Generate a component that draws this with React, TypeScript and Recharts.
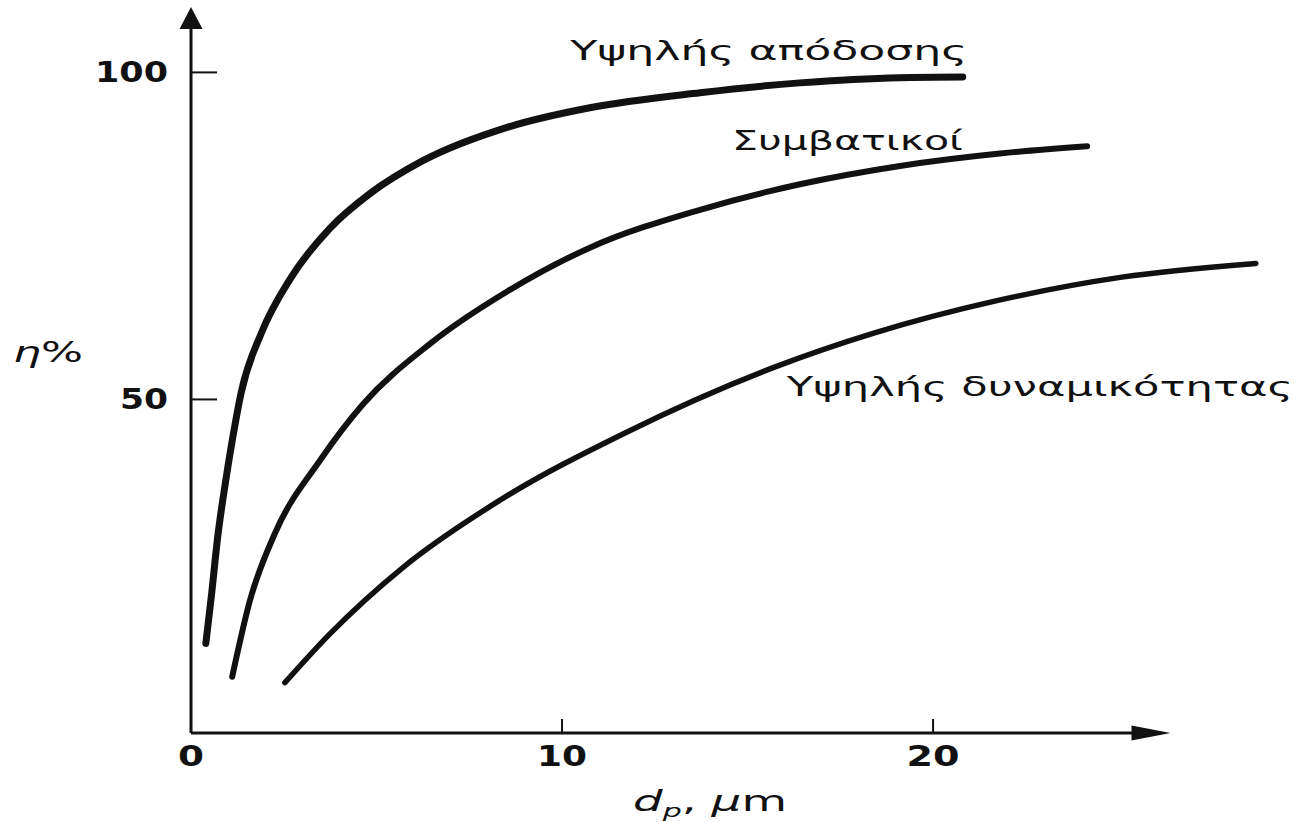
import { LineChart, Line, XAxis, YAxis, ReferenceLine, ReferenceDot } from "recharts";

const W = 1303;
const H = 822;
const INK = "#111";
const FONT = "'DejaVu Sans', 'Liberation Sans', sans-serif";

// axes
const X_TICKS = [0, 10, 20];
const Y_TICKS = [50, 100];
const X_ARROW_END = 26.4;
const Y_TOP = 110;

// Υψηλής απόδοσης
const highEffX = [0.4, 0.55, 0.72, 0.92, 1.12, 1.35, 1.9, 2.67, 3.75, 4.83, 6.25, 8.52, 10.75, 13.72, 16.4, 19.1, 20.8];
const highEffY = [12.7, 20, 29, 37, 44, 51, 60.2, 68.4, 76.2, 81.5, 86.5, 91.6, 94.6, 96.9, 98.4, 99.2, 99.3];

// Συμβατικοί
const convX = [1.11, 1.59, 2.26, 3.48, 4.64, 6.44, 8.52, 10.75, 13.72, 16.41, 19.11, 21.8, 24.15];
const convY = [7.6, 19.3, 29.5, 40.7, 49.3, 58.5, 66.5, 73.2, 79.0, 82.9, 85.7, 87.6, 88.7];

// Υψηλής δυναμικότητας
const highCapX = [2.53, 3.75, 5.71, 8.33, 11.67, 15.71, 18.38, 21.72, 25.09, 28.7];
const highCapY = [6.7, 14.2, 24.3, 34.6, 44.8, 54.9, 60.1, 65.1, 68.7, 70.8];

const toPoints = (xs: number[], ys: number[]) => xs.map((x, i) => ({ x, y: ys[i] }));

function YTick({ x, y, payload }: any) {
  const w = payload.value === 100 ? 73 : 48;
  return (
    <g>
      <line x1={x} y1={y} x2={x + 26} y2={y} stroke={INK} strokeWidth={2} />
      <text
        x={x - 23 - w}
        y={y + 10}
        textLength={w}
        lengthAdjust="spacingAndGlyphs"
        fontFamily={FONT}
        fontWeight="bold"
        fontSize={28}
        fill={INK}
      >
        {payload.value}
      </text>
    </g>
  );
}

function XTick({ x, y, payload }: any) {
  const w = payload.value === 0 ? 26 : payload.value === 10 ? 50 : 53;
  return (
    <g>
      {payload.value !== 0 && <line x1={x} y1={y} x2={x} y2={y - 14} stroke={INK} strokeWidth={2} />}
      <text
        x={x - w / 2}
        y={y + 33}
        textLength={w}
        lengthAdjust="spacingAndGlyphs"
        fontFamily={FONT}
        fontWeight="bold"
        fontSize={28}
        fill={INK}
      >
        {payload.value}
      </text>
    </g>
  );
}

function arrow(len: number, half: number) {
  return (p: any) => {
    const { x1, y1, x2, y2 } = p;
    const dx = x2 - x1;
    const dy = y2 - y1;
    const d = Math.hypot(dx, dy) || 1;
    const ux = dx / d;
    const uy = dy / d;
    const bx = x2 - ux * len;
    const by = y2 - uy * len;
    const pts = `${x2},${y2} ${bx - uy * half},${by + ux * half} ${bx + uy * half},${by - ux * half}`;
    return (
      <g>
        <line x1={x1} y1={y1} x2={bx + ux * 2} y2={by + uy * 2} stroke={INK} strokeWidth={3} />
        <polygon points={pts} fill={INK} />
      </g>
    );
  };
}

function curveLabel(text: string, width: number) {
  return (p: any) => {
    const vb = p.viewBox || {};
    return (
      <text
        x={vb.x}
        y={vb.y}
        textLength={width}
        lengthAdjust="spacingAndGlyphs"
        fontFamily={FONT}
        fontSize={26}
        fill={INK}
      >
        {text}
      </text>
    );
  };
}

function YTitle(p: any) {
  const vb = p.viewBox;
  return (
    <text x={vb.x + 13} y={vb.y + 355} textLength={70} lengthAdjust="spacingAndGlyphs" fontFamily={FONT} fontSize={28} fill={INK}>
      <tspan fontStyle="italic">η</tspan>%
    </text>
  );
}

function XTitle(p: any) {
  const vb = p.viewBox;
  return (
    <text x={vb.x + 442} y={vb.y + 78} textLength={154} lengthAdjust="spacingAndGlyphs" fontFamily={FONT} fontSize={28} fill={INK}>
      <tspan fontStyle="italic">d</tspan>
      <tspan fontStyle="italic" fontSize={18} dy={6}>p</tspan>
      <tspan dy={-6}>, </tspan>
      <tspan fontStyle="italic">μ</tspan>
      <tspan>m</tspan>
    </text>
  );
}

export default function App() {
  return (
    <div style={{ position: "absolute", left: 0, top: 0, width: W, height: H, background: "#fff" }}>
      <LineChart width={W} height={H} margin={{ top: 7, right: 36, bottom: 0, left: 0 }}>
        <XAxis
          type="number"
          dataKey="x"
          domain={[0, 29]}
          ticks={X_TICKS}
          interval={0}
          axisLine={false}
          tickLine={false}
          tickSize={0}
          tickMargin={0}
          height={89}
          tick={<XTick />}
          label={<XTitle />}
        />
        <YAxis
          type="number"
          dataKey="y"
          domain={[-1, Y_TOP]}
          ticks={Y_TICKS}
          interval={0}
          axisLine={false}
          tickLine={false}
          tickSize={0}
          tickMargin={0}
          width={191}
          tick={<YTick />}
          label={<YTitle />}
        />
        <ReferenceLine segment={[{ x: 0, y: -1 }, { x: X_ARROW_END, y: -1 }]} shape={arrow(39, 7.5)} />
        <ReferenceLine segment={[{ x: 0, y: -1 }, { x: 0, y: Y_TOP }]} shape={arrow(22, 11.5)} />
        <Line data={toPoints(highEffX, highEffY)} dataKey="y" type="monotone" stroke={INK} strokeWidth={7} strokeLinecap="round" dot={false} isAnimationActive={false} />
        <Line data={toPoints(convX, convY)} dataKey="y" type="monotone" stroke={INK} strokeWidth={6} strokeLinecap="round" dot={false} isAnimationActive={false} />
        <Line data={toPoints(highCapX, highCapY)} dataKey="y" type="monotone" stroke={INK} strokeWidth={5.5} strokeLinecap="round" dot={false} isAnimationActive={false} />
        <ReferenceDot x={10.22} y={101.9} r={0} fill="none" stroke="none" label={curveLabel("Υψηλής απόδοσης", 397)} />
        <ReferenceDot x={14.58} y={88.15} r={0} fill="none" stroke="none" label={curveLabel("Συμβατικοί", 231)} />
        <ReferenceDot x={16.06} y={50.5} r={0} fill="none" stroke="none" label={curveLabel("Υψηλής δυναμικότητας", 506)} />
      </LineChart>
    </div>
  );
}
